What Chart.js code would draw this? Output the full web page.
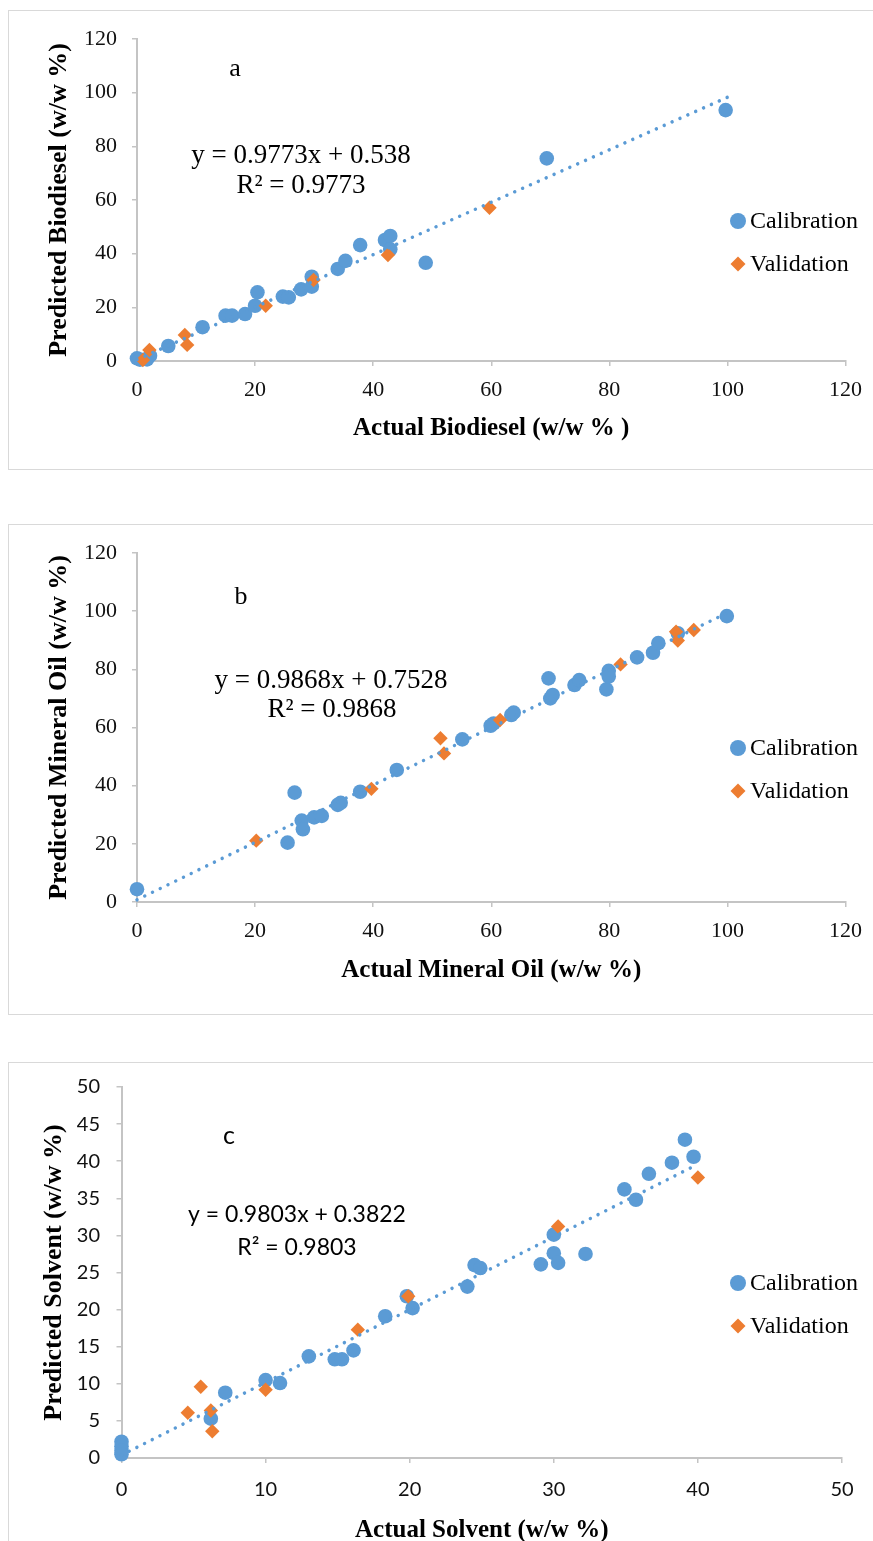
<!DOCTYPE html>
<html><head><meta charset="utf-8">
<script src="https://cdn.jsdelivr.net/npm/chart.js@4.4.1/dist/chart.umd.min.js"></script>
<style>
html,body{margin:0;padding:0;background:#fff;width:873px;height:1541px;overflow:hidden;position:relative}
.box{position:absolute;left:8px;width:900px;border:1px solid #d9d9d9;box-sizing:border-box}
.cv{position:absolute;left:0;width:873px}
canvas{display:block}
</style></head><body>
<div class="box" style="top:10px;height:460px"></div>
<div class="box" style="top:524px;height:491px"></div>
<div class="box" style="top:1062px;height:600px"></div>
<div class="cv" style="top:0px"><canvas id="ca" width="873" height="470"></canvas></div>
<div class="cv" style="top:510px"><canvas id="cb" width="873" height="505"></canvas></div>
<div class="cv" style="top:1050px"><canvas id="cc" width="873" height="520"></canvas></div>
<script>
// ---------- data ----------
const seriesNames = ['Calibration', 'Validation'];

const aCalX = [0, 0.5, 1.7, 2.2, 5.3, 11.1, 15.0, 16.1, 18.3, 20.0, 20.4, 24.7, 25.7, 27.8, 29.6, 29.6, 34.0, 35.3, 37.8, 42.0, 42.9, 42.9, 48.9, 69.4, 99.7];
const aCalY = [1.0, 0.5, 0.6, 2.0, 5.6, 12.6, 16.9, 16.9, 17.5, 20.6, 25.6, 24.0, 23.7, 26.7, 31.4, 27.7, 34.3, 37.3, 43.2, 45.1, 46.6, 41.6, 36.6, 75.5, 93.5];
const aValX = [1.0, 2.1, 8.1, 8.5, 21.8, 29.9, 42.5, 59.7];
const aValY = [0.4, 4.1, 9.7, 6.0, 20.6, 30.2, 39.5, 57.1];
const aTrendX = [0, 100];
const aTrendY = [0.538, 98.268];
const aEquation = ['y = 0.9773x + 0.538', 'R² = 0.9773'];
const aTitles = ['Actual Biodiesel (w/w % )', 'Predicted Biodiesel (w/w %)'];

const bCalX = [0, 25.5, 26.7, 27.9, 28.1, 30.0, 31.3, 34.0, 34.5, 37.8, 44.0, 55.1, 59.9, 60.4, 63.4, 63.8, 69.7, 70.0, 70.4, 74.1, 74.9, 79.5, 79.9, 79.9, 84.7, 87.4, 88.3, 91.6, 99.9];
const bCalY = [4.4, 20.4, 37.6, 28.0, 25.0, 29.1, 29.6, 33.4, 34.1, 37.9, 45.4, 55.9, 60.6, 61.4, 64.3, 65.1, 76.9, 70.0, 71.2, 74.6, 76.3, 73.1, 79.5, 77.5, 84.1, 85.7, 89.0, 92.4, 98.3];
const bValX = [20.2, 39.7, 51.4, 52.0, 61.5, 81.9, 91.3, 91.6, 94.3];
const bValY = [21.1, 38.9, 56.3, 51.1, 62.6, 81.7, 92.9, 89.9, 93.5];
const bTrendX = [0, 100];
const bTrendY = [0.7528, 99.4328];
const bEquation = ['y = 0.9868x + 0.7528', 'R² = 0.9868'];
const bTitles = ['Actual Mineral Oil (w/w %)', 'Predicted Mineral Oil (w/w %)'];

const cCalX = [0, 0, 0, 0, 6.2, 7.2, 10.0, 11.0, 13.0, 14.8, 15.3, 16.1, 18.3, 19.8, 20.2, 24.0, 24.5, 24.9, 29.1, 30.0, 30.0, 30.3, 32.2, 34.9, 35.7, 36.6, 38.2, 39.1, 39.7];
const cCalY = [2.2, 1.6, 1.0, 0.5, 5.3, 8.8, 10.5, 10.1, 13.7, 13.3, 13.3, 14.5, 19.1, 21.8, 20.2, 23.1, 26.0, 25.6, 26.1, 30.1, 27.6, 26.3, 27.5, 36.2, 34.8, 38.3, 39.8, 42.9, 40.6];
const cValX = [4.6, 5.5, 6.2, 6.3, 10.0, 16.4, 19.9, 30.3, 40.0];
const cValY = [6.1, 9.6, 6.4, 3.6, 9.2, 17.3, 21.8, 31.2, 37.8];
const cTrendX = [0, 40];
const cTrendY = [0.3822, 39.5942];
const cEquation = ['y = 0.9803x + 0.3822', 'R² = 0.9803'];
const cTitles = ['Actual Solvent (w/w %)', 'Predicted Solvent (w/w %)'];

const panelLetters = ['a', 'b', 'c'];

// ---------- helpers ----------
const BLUE = '#5b9bd5', ORANGE = '#ed7d31';
const SERIF = '"Liberation Serif", "Times New Roman", serif';
const SANS = 'Lato, "Open Sans", sans-serif';
const zip = (xs, ys) => xs.map((x, i) => ({x: x, y: ys[i]}));

const notesPlugin = {
  id: 'notes',
  afterDatasetsDraw(chart, args, opts) {
    const ctx = chart.ctx;
    ctx.save();
    ctx.fillStyle = '#000';
    ctx.textBaseline = 'middle';
    (opts.items || []).forEach(it => {
      ctx.font = it.font;
      ctx.textAlign = it.align || 'center';
      ctx.fillText(it.text, it.x, it.y);
    });
    const lg = opts.legend;
    if (lg) {
      const sets = chart.data.datasets.filter(d => d.inLegend);
      sets.forEach((d, i) => {
        const y = lg.ys[i];
        ctx.fillStyle = d.backgroundColor;
        ctx.beginPath();
        if (d.pointStyle === 'circle') {
          ctx.arc(lg.x, y, 8, 0, Math.PI * 2);
        } else {
          const r = 7.5;
          ctx.moveTo(lg.x, y - r); ctx.lineTo(lg.x + r, y); ctx.lineTo(lg.x, y + r); ctx.lineTo(lg.x - r, y); ctx.closePath();
        }
        ctx.fill();
        ctx.fillStyle = '#000';
        ctx.font = lg.font;
        ctx.textAlign = 'left';
        ctx.fillText(d.label, lg.x + 12, y + 1);
      });
    }
    ctx.restore();
  }
};

function makeChart(id, p) {
  const axisCommon = (min, max, step, tickFont, tickPad, titleText, titleFont, titlePad) => ({
    type: 'linear', min: min, max: max,
    ticks: {stepSize: step, font: tickFont, color: '#111', padding: tickPad},
    grid: {display: true, drawOnChartArea: false, drawTicks: true, tickLength: 5, color: '#c4c4c4', lineWidth: 1.5},
    border: {display: true, color: '#c4c4c4', width: 2},
    title: {display: true, text: titleText, font: titleFont, color: '#000', padding: titlePad}
  });
  const xs = axisCommon(p.xMin, p.xMax, p.xStep, p.tickFont, p.xTickPad, p.titles[0],
    {family: SERIF, size: 25, weight: 'bold'}, {top: 0, bottom: p.xTitlePad});
  xs.afterFit = s => { s.height = p.xAxisH; };
  const ys = axisCommon(p.yMin, p.yMax, p.yStep, p.tickFont, p.yTickPad, p.titles[1],
    {family: SERIF, size: 26, weight: 'bold'}, {top: p.yTitlePad, bottom: 0});
  ys.afterFit = s => { s.width = p.yAxisW; };

  return new Chart(document.getElementById(id), {
    type: 'scatter',
    data: {
      datasets: [
        {label: 'trend', type: 'line', data: zip(p.trendX, p.trendY), borderColor: BLUE, borderWidth: 3.5,
         borderDash: [0.01, 8.6], borderCapStyle: 'round', pointRadius: 0, fill: false, order: 0, clip: false},
        {label: seriesNames[0], inLegend: true, data: zip(p.calX, p.calY), pointStyle: 'circle', pointRadius: 7.3,
         backgroundColor: BLUE, borderColor: BLUE, borderWidth: 0, order: 2, clip: false},
        {label: seriesNames[1], inLegend: true, data: zip(p.valX, p.valY), pointStyle: 'rectRot', pointRadius: 7.2,
         backgroundColor: ORANGE, borderColor: ORANGE, borderWidth: 0, order: 1, clip: false}
      ]
    },
    options: {
      responsive: false, animation: false, events: [],
      layout: {padding: {top: p.padTop, right: p.padRight, left: 0, bottom: 0}},
      scales: {x: xs, y: ys},
      plugins: {
        legend: {display: false}, tooltip: {enabled: false},
        notes: {items: p.notes, legend: p.legend}
      }
    },
    plugins: [notesPlugin]
  });
}

const serifTick = {family: SERIF, size: 22};
const sansTick = {family: SANS, size: 20};

makeChart('ca', {
  calX: aCalX, calY: aCalY, valX: aValX, valY: aValY, trendX: aTrendX, trendY: aTrendY, titles: aTitles,
  xMin: 0, xMax: 120, xStep: 20, yMin: 0, yMax: 120, yStep: 20, tickFont: serifTick,
  padTop: 39, padRight: 25, yAxisW: 137, xAxisH: 109, xTickPad: 11, yTickPad: 15, xTitlePad: 26, yTitlePad: 44,
  notes: [
    {text: panelLetters[0], x: 235, y: 69, font: '26px ' + SERIF},
    {text: aEquation[0], x: 301, y: 156, font: '27px ' + SERIF},
    {text: aEquation[1], x: 301, y: 186, font: '27px ' + SERIF}
  ],
  legend: {x: 738, ys: [221, 264], font: '24px ' + SERIF}
});

makeChart('cb', {
  calX: bCalX, calY: bCalY, valX: bValX, valY: bValY, trendX: bTrendX, trendY: bTrendY, titles: bTitles,
  xMin: 0, xMax: 120, xStep: 20, yMin: 0, yMax: 120, yStep: 20, tickFont: serifTick,
  padTop: 43, padRight: 25, yAxisW: 137, xAxisH: 113, xTickPad: 11, yTickPad: 15, xTitlePad: 29, yTitlePad: 44,
  notes: [
    {text: panelLetters[1], x: 241, y: 87, font: '26px ' + SERIF},
    {text: bEquation[0], x: 331, y: 171, font: '27px ' + SERIF},
    {text: bEquation[1], x: 332, y: 200, font: '27px ' + SERIF}
  ],
  legend: {x: 738, ys: [238, 281], font: '24px ' + SERIF}
});

makeChart('cc', {
  calX: cCalX, calY: cCalY, valX: cValX, valY: cValY, trendX: cTrendX, trendY: cTrendY, titles: cTitles,
  xMin: 0, xMax: 50, xStep: 10, yMin: 0, yMax: 50, yStep: 5, tickFont: sansTick,
  padTop: 37, padRight: 31, yAxisW: 121.5, xAxisH: 112, xTickPad: 15, yTickPad: 16.5, xTitlePad: 24, yTitlePad: 39,
  notes: [
    {text: panelLetters[2], x: 229, y: 86, font: '25px ' + SANS},
    {text: cEquation[0], x: 297, y: 165, font: '23px ' + SANS},
    {text: cEquation[1], x: 297, y: 198, font: '23px ' + SANS}
  ],
  legend: {x: 738, ys: [233, 276], font: '24px ' + SERIF}
});
</script>
</body></html>
